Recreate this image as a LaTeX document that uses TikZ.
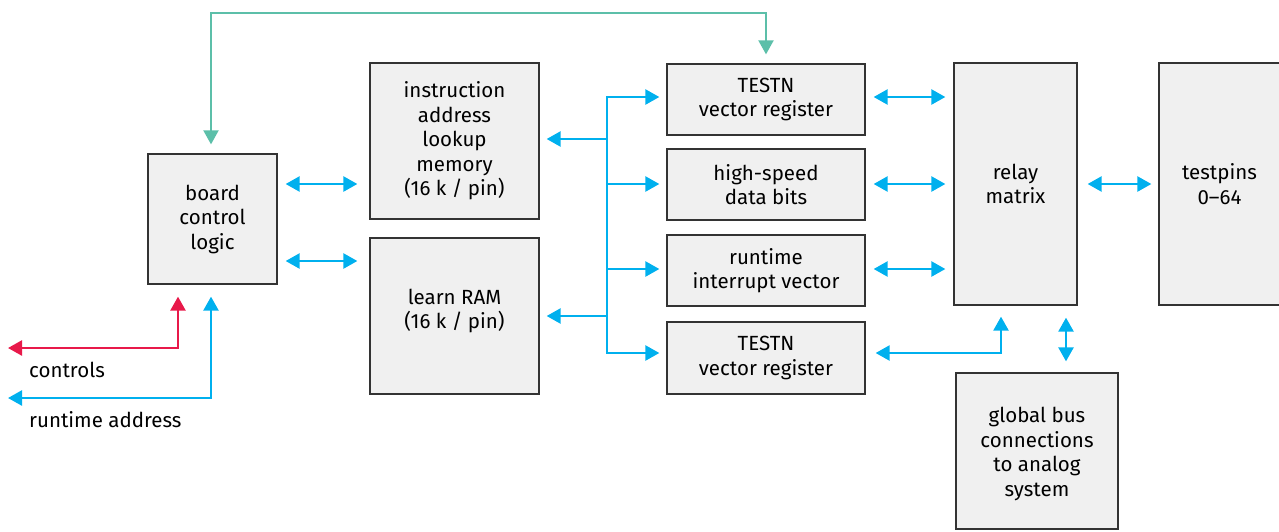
\documentclass[tikz,border=0pt]{standalone}
\usepackage{fontspec}
\setmainfont{Fira Sans}
\usetikzlibrary{arrows.meta}
\definecolor{bxfill}{HTML}{F0F0F0}
\definecolor{bxdraw}{HTML}{333333}
\definecolor{cblue}{HTML}{00B0EE}
\definecolor{cgreen}{HTML}{5CBFA9}
\definecolor{cred}{HTML}{E8194A}
\tikzset{
  box/.style={draw=bxdraw, fill=bxfill, line width=1.3pt, align=center, inner sep=0pt,
    font=\fontsize{20.5}{24.5}\selectfont},
  txt/.style={align=center, inner sep=0pt, font=\fontsize{20.5}{24.5}\selectfont},
  bl/.style={cblue, line width=2.5pt},
  barr/.style={bl, -{Triangle[length=14pt,width=15pt]}},
  bdbl/.style={bl, {Triangle[length=14pt,width=15pt]}-{Triangle[length=14pt,width=15pt]}},
  gdbl/.style={cgreen, line width=2pt, {Triangle[length=14pt,width=15pt]}-{Triangle[length=14pt,width=15pt]}},
  rdbl/.style={cred, line width=2.5pt, {Triangle[length=14pt,width=15pt]}-{Triangle[length=14pt,width=15pt]}},
  lbl/.style={anchor=west, inner sep=0pt, font=\fontsize{20.5}{24.5}\selectfont},
}
\begin{document}
\begin{tikzpicture}[x=1pt,y=-1pt]
\useasboundingbox (0,0) rectangle (1279,531);
% boxes
\node[box, minimum width=129pt, minimum height=130pt] (board) at (212.5,219) {board\\control\\logic};
\node[box, minimum width=169pt, minimum height=156pt] (instr) at (454.5,141) {instruction\\address\\lookup\\memory\\(16 k / pin)};
\node[box, minimum width=169pt, minimum height=156pt] (learn) at (454.5,316) {};
\node[txt] (learnt) at (454.5,311) {learn RAM\\(16 k / pin)};
\node[box, minimum width=198pt, minimum height=71pt] (t1) at (766,99.5) {TESTN\\vector register};
\node[box, minimum width=198pt, minimum height=71pt] (hs) at (766,184.5) {high-speed\\data bits};
\node[box, minimum width=198pt, minimum height=71pt] (rt) at (766,270.5) {runtime\\interrupt vector};
\node[box, minimum width=198pt, minimum height=72pt] (t2) at (766,358) {TESTN\\vector register};
\node[box, minimum width=123pt, minimum height=242pt] (relay) at (1015.5,184) {relay\\matrix};
\node[box, minimum width=121pt, minimum height=242pt] (pins) at (1219.5,184) {testpins\\0--64};
\node[box, minimum width=162pt, minimum height=156pt] (glob) at (1037,451) {};
\node[txt] (globt) at (1037,454) {global bus\\connections\\to analog\\system};
% labels
\node[lbl] (lctrl) at (29,370) {controls};
\node[lbl] (laddr) at (29,420) {runtime address};
\coordinate (ctrlend) at (8,348);
\coordinate (addrend) at (8,398);
\coordinate (gtop) at (211,13);
% green
\draw[gdbl] ([yshift=9pt]board.north -| gtop) -- (gtop) -| ([yshift=9pt]t1.north);
% board <-> memories
\draw[bdbl] ([xshift=8pt]board.east |- 0,184) -- ([xshift=-12pt]instr.west |- 0,184);
\draw[bdbl] ([xshift=8pt]board.east |- 0,261) -- ([xshift=-12pt]learn.west |- 0,261);
% red and blue from board
\draw[rdbl] (ctrlend) -| ([yshift=-12pt]board.south -| 178,0);
\draw[bdbl] (addrend) -| ([yshift=-12pt]board.south -| 211,0);
% bus
\coordinate (bt) at (607,97);
\coordinate (bb) at (607,353);
\draw[bl, line cap=rect] (bt) -- (bb);
\draw[barr] (607,139) -- ([xshift=7pt]instr.east |- 0,139);
\draw[barr] (607,316) -- ([xshift=7pt]learn.east |- 0,316);
\draw[barr] (bt) -- ([xshift=-7pt]t1.west |- bt);
\draw[barr] (607,184) -- ([xshift=-7pt]hs.west |- 0,184);
\draw[barr] (607,269) -- ([xshift=-7pt]rt.west |- 0,269);
\draw[barr] (bb) -- ([xshift=-7pt]t2.west |- bb);
% to relay
\draw[bdbl] ([xshift=8pt]t1.east |- 0,97) -- ([xshift=-8pt]relay.west |- 0,97);
\draw[bdbl] ([xshift=8pt]hs.east |- 0,184) -- ([xshift=-8pt]relay.west |- 0,184);
\draw[bdbl] ([xshift=8pt]rt.east |- 0,269) -- ([xshift=-8pt]relay.west |- 0,269);
\draw[bdbl] ([xshift=10pt]t2.east |- 0,353) -| ([yshift=-11pt]relay.south -| 1001,0);
\draw[bdbl] ([yshift=-12pt]relay.south -| 1066,0) -- ([yshift=11pt]glob.north -| 1066,0);
\draw[bdbl] ([xshift=10pt]relay.east |- 0,184) -- ([xshift=-7pt]pins.west |- 0,184);
\end{tikzpicture}
\end{document}
